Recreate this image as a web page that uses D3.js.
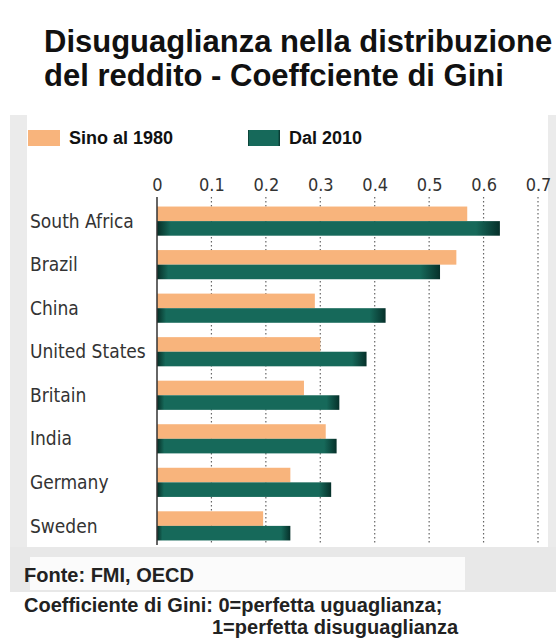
<!DOCTYPE html>
<html>
<head>
<meta charset="utf-8">
<script src="https://cdn.jsdelivr.net/npm/d3@7"></script>
<style>
  body { margin: 0; background: #fff; }
  svg { display: block; }
  .cond { font-family: "DejaVu Sans Condensed", "Liberation Sans Narrow", sans-serif; font-stretch: condensed; }
  .bold { font-family: "Liberation Sans", Arial, sans-serif; font-weight: bold; }
</style>
</head>
<body>
<div id="chart"></div>
<script>
var countries = ["South Africa", "Brazil", "China", "United States", "Britain", "India", "Germany", "Sweden"];
var until1980 = [0.57, 0.55, 0.29, 0.30, 0.27, 0.31, 0.245, 0.195];
var since2010 = [0.63, 0.52, 0.42, 0.385, 0.335, 0.33, 0.32, 0.245];
var tickValues = [0, 0.1, 0.2, 0.3, 0.4, 0.5, 0.6, 0.7];
var seriesNames = ["Sino al 1980", "Dal 2010"];
var seriesColors = ["#f8b47c", "#16695a"];

var width = 556, height = 644;

var data = countries.map(function (c, i) {
    return {country: c, values: [until1980[i], since2010[i]]};
});

var svg = d3.select("#chart").append("svg")
    .attr("width", width)
    .attr("height", height);

// gradient for the dark green bars (darker ends)
var defs = svg.append("defs");
var grad = defs.append("linearGradient").attr("id", "greenGrad");
grad.append("stop").attr("offset", "0%").attr("stop-color", "#062e26");
grad.append("stop").attr("offset", "4%").attr("stop-color", "#16695a");
grad.append("stop").attr("offset", "93%").attr("stop-color", "#16695a");
grad.append("stop").attr("offset", "100%").attr("stop-color", "#06302a");

// background frame
svg.append("rect").attr("x", 10).attr("y", 115).attr("width", 17).attr("height", 477).attr("fill", "#ebebeb");
svg.append("rect").attr("x", 548).attr("y", 115).attr("width", 8).attr("height", 477).attr("fill", "#ebebeb");
svg.append("rect").attr("x", 10).attr("y", 547).attr("width", 546).attr("height", 45).attr("fill", "#e8e8e8");
svg.append("rect").attr("x", 30).attr("y", 557).attr("width", 435).attr("height", 33).attr("fill", "#fbfbfb");

// title
var title = svg.append("text").attr("class", "bold")
    .attr("font-size", 31).attr("fill", "#111");
title.append("tspan").attr("x", 44).attr("y", 52).text("Disuguaglianza nella distribuzione");
title.append("tspan").attr("x", 44).attr("y", 86).text("del reddito - Coeffciente di Gini");

// legend
var legendX = [28, 248];
seriesNames.forEach(function (name, i) {
    svg.append("rect")
        .attr("x", legendX[i]).attr("y", 130)
        .attr("width", 32).attr("height", 16)
        .attr("fill", i === 0 ? seriesColors[0] : "url(#greenGrad)");
    svg.append("text").attr("class", "bold")
        .attr("x", legendX[i] + 41).attr("y", 144)
        .attr("font-size", 18).attr("fill", "#111")
        .text(name);
});

var x = d3.scaleLinear()
    .domain([0, 0.7])
    .range([157, 538]);

var y0 = d3.scaleBand()
    .domain(countries)
    .range([200, 547])
    .paddingInner(0.33)
    .paddingOuter(0.15);

var y1 = d3.scaleBand()
    .domain([0, 1])
    .range([0, y0.bandwidth()]);

// dotted gridlines
svg.append("g")
    .selectAll("line")
    .data(tickValues.slice(1))
    .join("line")
    .attr("x1", function (d) { return x(d); })
    .attr("x2", function (d) { return x(d); })
    .attr("y1", 197)
    .attr("y2", 545)
    .attr("stroke", "#666")
    .attr("stroke-width", 1.2)
    .attr("stroke-dasharray", "1.5,2.5");

// top axis labels
var xAxis = d3.axisTop(x)
    .tickValues(tickValues)
    .tickSize(0)
    .tickPadding(0)
    .tickFormat(function (d) { return d === 0 ? "0" : d3.format(".1f")(d); });

var ax = svg.append("g")
    .attr("transform", "translate(0,191)")
    .call(xAxis);
ax.select(".domain").remove();
ax.selectAll("text")
    .attr("class", "cond")
    .attr("font-size", 18)
    .attr("fill", "#333");

// bars
var groups = svg.append("g")
    .selectAll("g")
    .data(data)
    .join("g")
    .attr("transform", function (d) { return "translate(0," + y0(d.country) + ")"; });

groups.selectAll("rect")
    .data(function (d) { return d.values; })
    .join("rect")
    .attr("x", x(0))
    .attr("y", function (d, i) { return y1(i); })
    .attr("width", function (d) { return x(d) - x(0); })
    .attr("height", y1.bandwidth())
    .attr("fill", function (d, i) { return i === 0 ? seriesColors[0] : "url(#greenGrad)"; });

// vertical axis line
svg.append("line")
    .attr("x1", x(0)).attr("x2", x(0))
    .attr("y1", 197).attr("y2", 545)
    .attr("stroke", "#333").attr("stroke-width", 1.5);

// country labels
svg.append("g")
    .selectAll("text")
    .data(countries)
    .join("text")
    .attr("class", "cond")
    .attr("x", 30)
    .attr("y", function (d) { return y0(d) + y0.bandwidth() / 2; })
    .attr("dy", "0.35em")
    .attr("font-size", 19)
    .attr("fill", "#333")
    .text(function (d) { return d; });

// footer
svg.append("text").attr("class", "bold")
    .attr("x", 24).attr("y", 582)
    .attr("font-size", 20).attr("fill", "#222")
    .text("Fonte: FMI, OECD");
svg.append("text").attr("class", "bold")
    .attr("x", 24).attr("y", 612)
    .attr("font-size", 20).attr("fill", "#222")
    .text("Coefficiente di Gini: 0=perfetta uguaglianza;");
svg.append("text").attr("class", "bold")
    .attr("x", 212).attr("y", 634)
    .attr("font-size", 20).attr("fill", "#222")
    .text("1=perfetta disuguaglianza");
</script>
</body>
</html>
